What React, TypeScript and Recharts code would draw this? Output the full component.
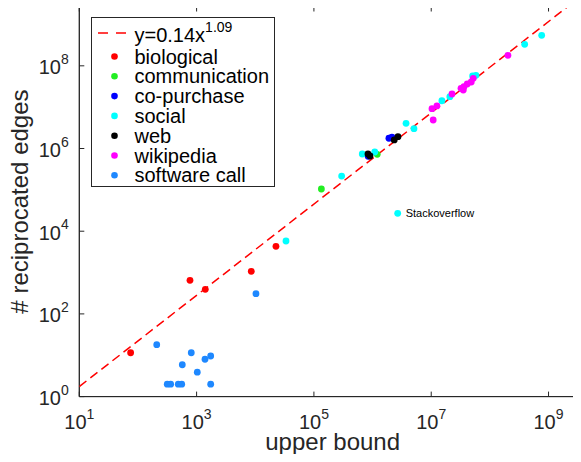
import {
  Label,
  LabelList,
  Legend,
  ReferenceArea,
  Scatter,
  ScatterChart,
  XAxis,
  YAxis,
} from 'recharts';

// values
const BIOLOGICAL = [
  { x: 75, y: 11.5 },
  { x: 771, y: 650 },
  { x: 1406, y: 394 },
  { x: 8550, y: 1072 },
  { x: 22540, y: 4315 },
];

const COMMUNICATION = [
  { x: 1.34e5, y: 1.05e5 },
  { x: 1.2e6, y: 7.24e5 },
];

const CO_PURCHASE = [
  { x: 8.4e5, y: 6.5e5 },
  { x: 1.9e6, y: 1.77e6 },
  { x: 2.14e6, y: 1.87e6 },
];

const SOCIAL = [
  { x: 3.34e4, y: 5800 },
  { x: 2.97e5, y: 2.16e5 },
  { x: 6.67e5, y: 7.37e5 },
  { x: 1.09e6, y: 8.23e5 },
  { x: 3.72e6, y: 4.07e6 },
  { x: 5.08e6, y: 3.01e6 },
  { x: 1.52e7, y: 1.43e7 },
  { x: 2.08e7, y: 1.79e7 },
  { x: 5.08e7, y: 5.67e7 },
  { x: 5.79e7, y: 5.89e7 },
  { x: 3.92e8, y: 3.31e8 },
  { x: 7.64e8, y: 5.47e8 },
];

const STACKOVERFLOW = [{ x: 2.68e6, y: 2.71e4, label: 'Stackoverflow' }];

const WEB = [
  { x: 8.35e5, y: 7.37e5 },
  { x: 9.04e5, y: 6.59e5 },
  { x: 2.34e6, y: 1.61e6 },
  { x: 2.71e6, y: 1.93e6 },
];

const WIKIPEDIA = [
  { x: 1.08e7, y: 4.89e6 },
  { x: 1.03e7, y: 9.18e6 },
  { x: 1.25e7, y: 1.07e7 },
  { x: 2.26e7, y: 2.08e7 },
  { x: 3.22e7, y: 2.86e7 },
  { x: 3.52e7, y: 2.6e7 },
  { x: 3.61e7, y: 3.12e7 },
  { x: 4.11e7, y: 3.63e7 },
  { x: 4.81e7, y: 4.06e7 },
  { x: 5.21e7, y: 4.99e7 },
  { x: 2.03e8, y: 1.79e8 },
];

const SOFTWARE_CALL = [
  { x: 209, y: 18 },
  { x: 316, y: 2 },
  { x: 361, y: 2 },
  { x: 487, y: 2 },
  { x: 557, y: 2 },
  { x: 570, y: 5.9 },
  { x: 811, y: 11.5 },
  { x: 1027, y: 3.9 },
  { x: 1390, y: 8 },
  { x: 1738, y: 9.6 },
  { x: 1738, y: 2 },
  { x: 10280, y: 308 },
];

// dashed fit y=0.14x^1.09, end points as drawn
const FIT_LINE = [
  { x: 10, y: 1.75 },
  { x: 2.14e9, y: 2.72e9 },
];

const X_TICKS = [10, 1e3, 1e5, 1e7, 1e9];
const Y_TICKS = [1, 1e2, 1e4, 1e6, 1e8];
const X_DOMAIN = [10, 3.72e9];
const Y_DOMAIN = [1, 2.72e9];

const SERIES = [
  { name: 'biological', color: '#ff0000', data: BIOLOGICAL },
  { name: 'communication', color: '#22ee22', data: COMMUNICATION },
  { name: 'co-purchase', color: '#0000ff', data: CO_PURCHASE },
  { name: 'social', color: '#00ffff', data: SOCIAL },
  { name: 'web', color: '#000000', data: WEB },
  { name: 'wikipedia', color: '#ff00ff', data: WIKIPEDIA },
  { name: 'software call', color: '#1e88ff', data: SOFTWARE_CALL },
];

const AXIS = '#262626';
const FONT = '"Liberation Sans", Arial, Helvetica, sans-serif';
const CHART_W = 600;
const CHART_H = 462;
const PLOT_LEFT = 79.3;
const PLOT_TOP = 6.5;
const PLOT_RIGHT = 582;
const PLOT_BOTTOM = 396.6;

function XTick({ x, y, payload }: any) {
  const exp = Math.round(Math.log10(payload.value));
  return (
    <g>
      <line x1={x} x2={x} y1={y} y2={y - 5} stroke={AXIS} />
      <line x1={x} x2={x} y1={PLOT_TOP} y2={PLOT_TOP + 5} stroke={AXIS} />
      <text x={x} y={y + 32.5} textAnchor="middle" fontSize={20} fill={AXIS} fontFamily={FONT}>
        10
        <tspan dy={-10.5} fontSize={14}>
          {exp}
        </tspan>
      </text>
    </g>
  );
}

function YTick({ x, y, payload }: any) {
  const exp = Math.round(Math.log10(payload.value));
  return (
    <g>
      <line x1={x} x2={x + 5} y1={y} y2={y} stroke={AXIS} />
      <line x1={PLOT_RIGHT - 5} x2={PLOT_RIGHT} y1={y} y2={y} stroke={AXIS} />
      <text x={x - 10.5} y={y + 8.5} textAnchor="end" fontSize={20} fill={AXIS} fontFamily={FONT}>
        10
        <tspan dy={-10.5} fontSize={14}>
          {exp}
        </tspan>
      </text>
    </g>
  );
}

function dot(color: string) {
  return (props: any) => <circle cx={props.cx} cy={props.cy} r={3.4} fill={color} />;
}

function renderLegend() {
  return (
    <div
      style={{
        width: 184,
        height: 170,
        border: `1px solid ${AXIS}`,
        background: '#fff',
        boxSizing: 'border-box',
      }}
    >
      <svg width={182} height={168} style={{ display: 'block' }}>
        <line x1={6} x2={35} y1={15} y2={15} stroke="#ff0000" strokeWidth={1.5} strokeDasharray="10 8" />
        <text x={42.5} y={24} fontSize={20} fill="#000" fontFamily={FONT}>
          y=0.14x
          <tspan dy={-10} fontSize={14}>
            1.09
          </tspan>
        </text>
        {SERIES.map((s, i) => (
          <g key={s.name}>
            <circle cx={22.5} cy={38.5 + i * 19.8} r={3.3} fill={s.color} />
            <text x={42.5} y={45.5 + i * 19.8} fontSize={20} fill="#000" fontFamily={FONT}>
              {s.name}
            </text>
          </g>
        ))}
      </svg>
    </div>
  );
}

function StackLabel(props: any) {
  const { x, y, width, height, value } = props;
  return (
    <text x={x + width / 2 + 8} y={y + height / 2 + 4} fontSize={11} fill="#000" fontFamily={FONT}>
      {value}
    </text>
  );
}

export default function App() {
  return (
    <div style={{ margin: -8, width: 581, height: 462, overflow: 'hidden', background: '#fff' }}>
      <ScatterChart
        width={CHART_W}
        height={CHART_H}
        margin={{ top: PLOT_TOP, right: CHART_W - PLOT_RIGHT, bottom: 0, left: 0 }}
      >
        <XAxis
          dataKey="x"
          type="number"
          scale="log"
          domain={X_DOMAIN}
          ticks={X_TICKS}
          interval={0}
          allowDataOverflow
          height={CHART_H - PLOT_BOTTOM}
          axisLine={{ stroke: AXIS }}
          tickLine={false}
          tickSize={0}
          tickMargin={0}
          tick={<XTick />}
        >
          <Label
            content={() => (
              <text
                x={(PLOT_LEFT + PLOT_RIGHT) / 2 + 2}
                y={450}
                textAnchor="middle"
                fontSize={24}
                fill={AXIS}
                fontFamily={FONT}
              >
                upper bound
              </text>
            )}
          />
        </XAxis>
        <YAxis
          dataKey="y"
          type="number"
          scale="log"
          domain={Y_DOMAIN}
          ticks={Y_TICKS}
          interval={0}
          allowDataOverflow
          width={PLOT_LEFT}
          axisLine={{ stroke: AXIS }}
          tickLine={false}
          tickSize={0}
          tickMargin={0}
          tick={<YTick />}
        >
          <Label
            content={() => (
              <text
                x={28.5}
                y={(PLOT_TOP + PLOT_BOTTOM) / 2}
                transform={`rotate(-90 28.5 ${(PLOT_TOP + PLOT_BOTTOM) / 2})`}
                textAnchor="middle"
                fontSize={24}
                fill={AXIS}
                fontFamily={FONT}
              >
                # reciprocated edges
              </text>
            )}
          />
        </YAxis>
        <ReferenceArea
          x1={X_DOMAIN[0]}
          x2={X_DOMAIN[1]}
          y1={Y_DOMAIN[0]}
          y2={Y_DOMAIN[1]}
          fill="none"
          stroke={AXIS}
          strokeWidth={1}
          ifOverflow="visible"
        />
        <Scatter
          name="fit"
          data={FIT_LINE}
          line={{ stroke: '#ff0000', strokeWidth: 1.5, strokeDasharray: '9 5' }}
          shape={() => <g />}
          isAnimationActive={false}
        />
        {SERIES.map((s) => (
          <Scatter
            key={s.name}
            name={s.name}
            data={s.data}
            fill={s.color}
            shape={dot(s.color)}
            isAnimationActive={false}
          />
        ))}
        <Scatter
          name="stackoverflow"
          data={STACKOVERFLOW}
          fill="#00ffff"
          shape={dot('#00ffff')}
          isAnimationActive={false}
        >
          <LabelList dataKey="label" content={<StackLabel />} />
        </Scatter>
        <Legend
          layout="vertical"
          align="center"
          verticalAlign="middle"
          content={renderLegend}
          wrapperStyle={{ left: 90.5, top: 17, width: 185, height: 171, right: 'auto', bottom: 'auto' }}
        />
      </ScatterChart>
    </div>
  );
}
